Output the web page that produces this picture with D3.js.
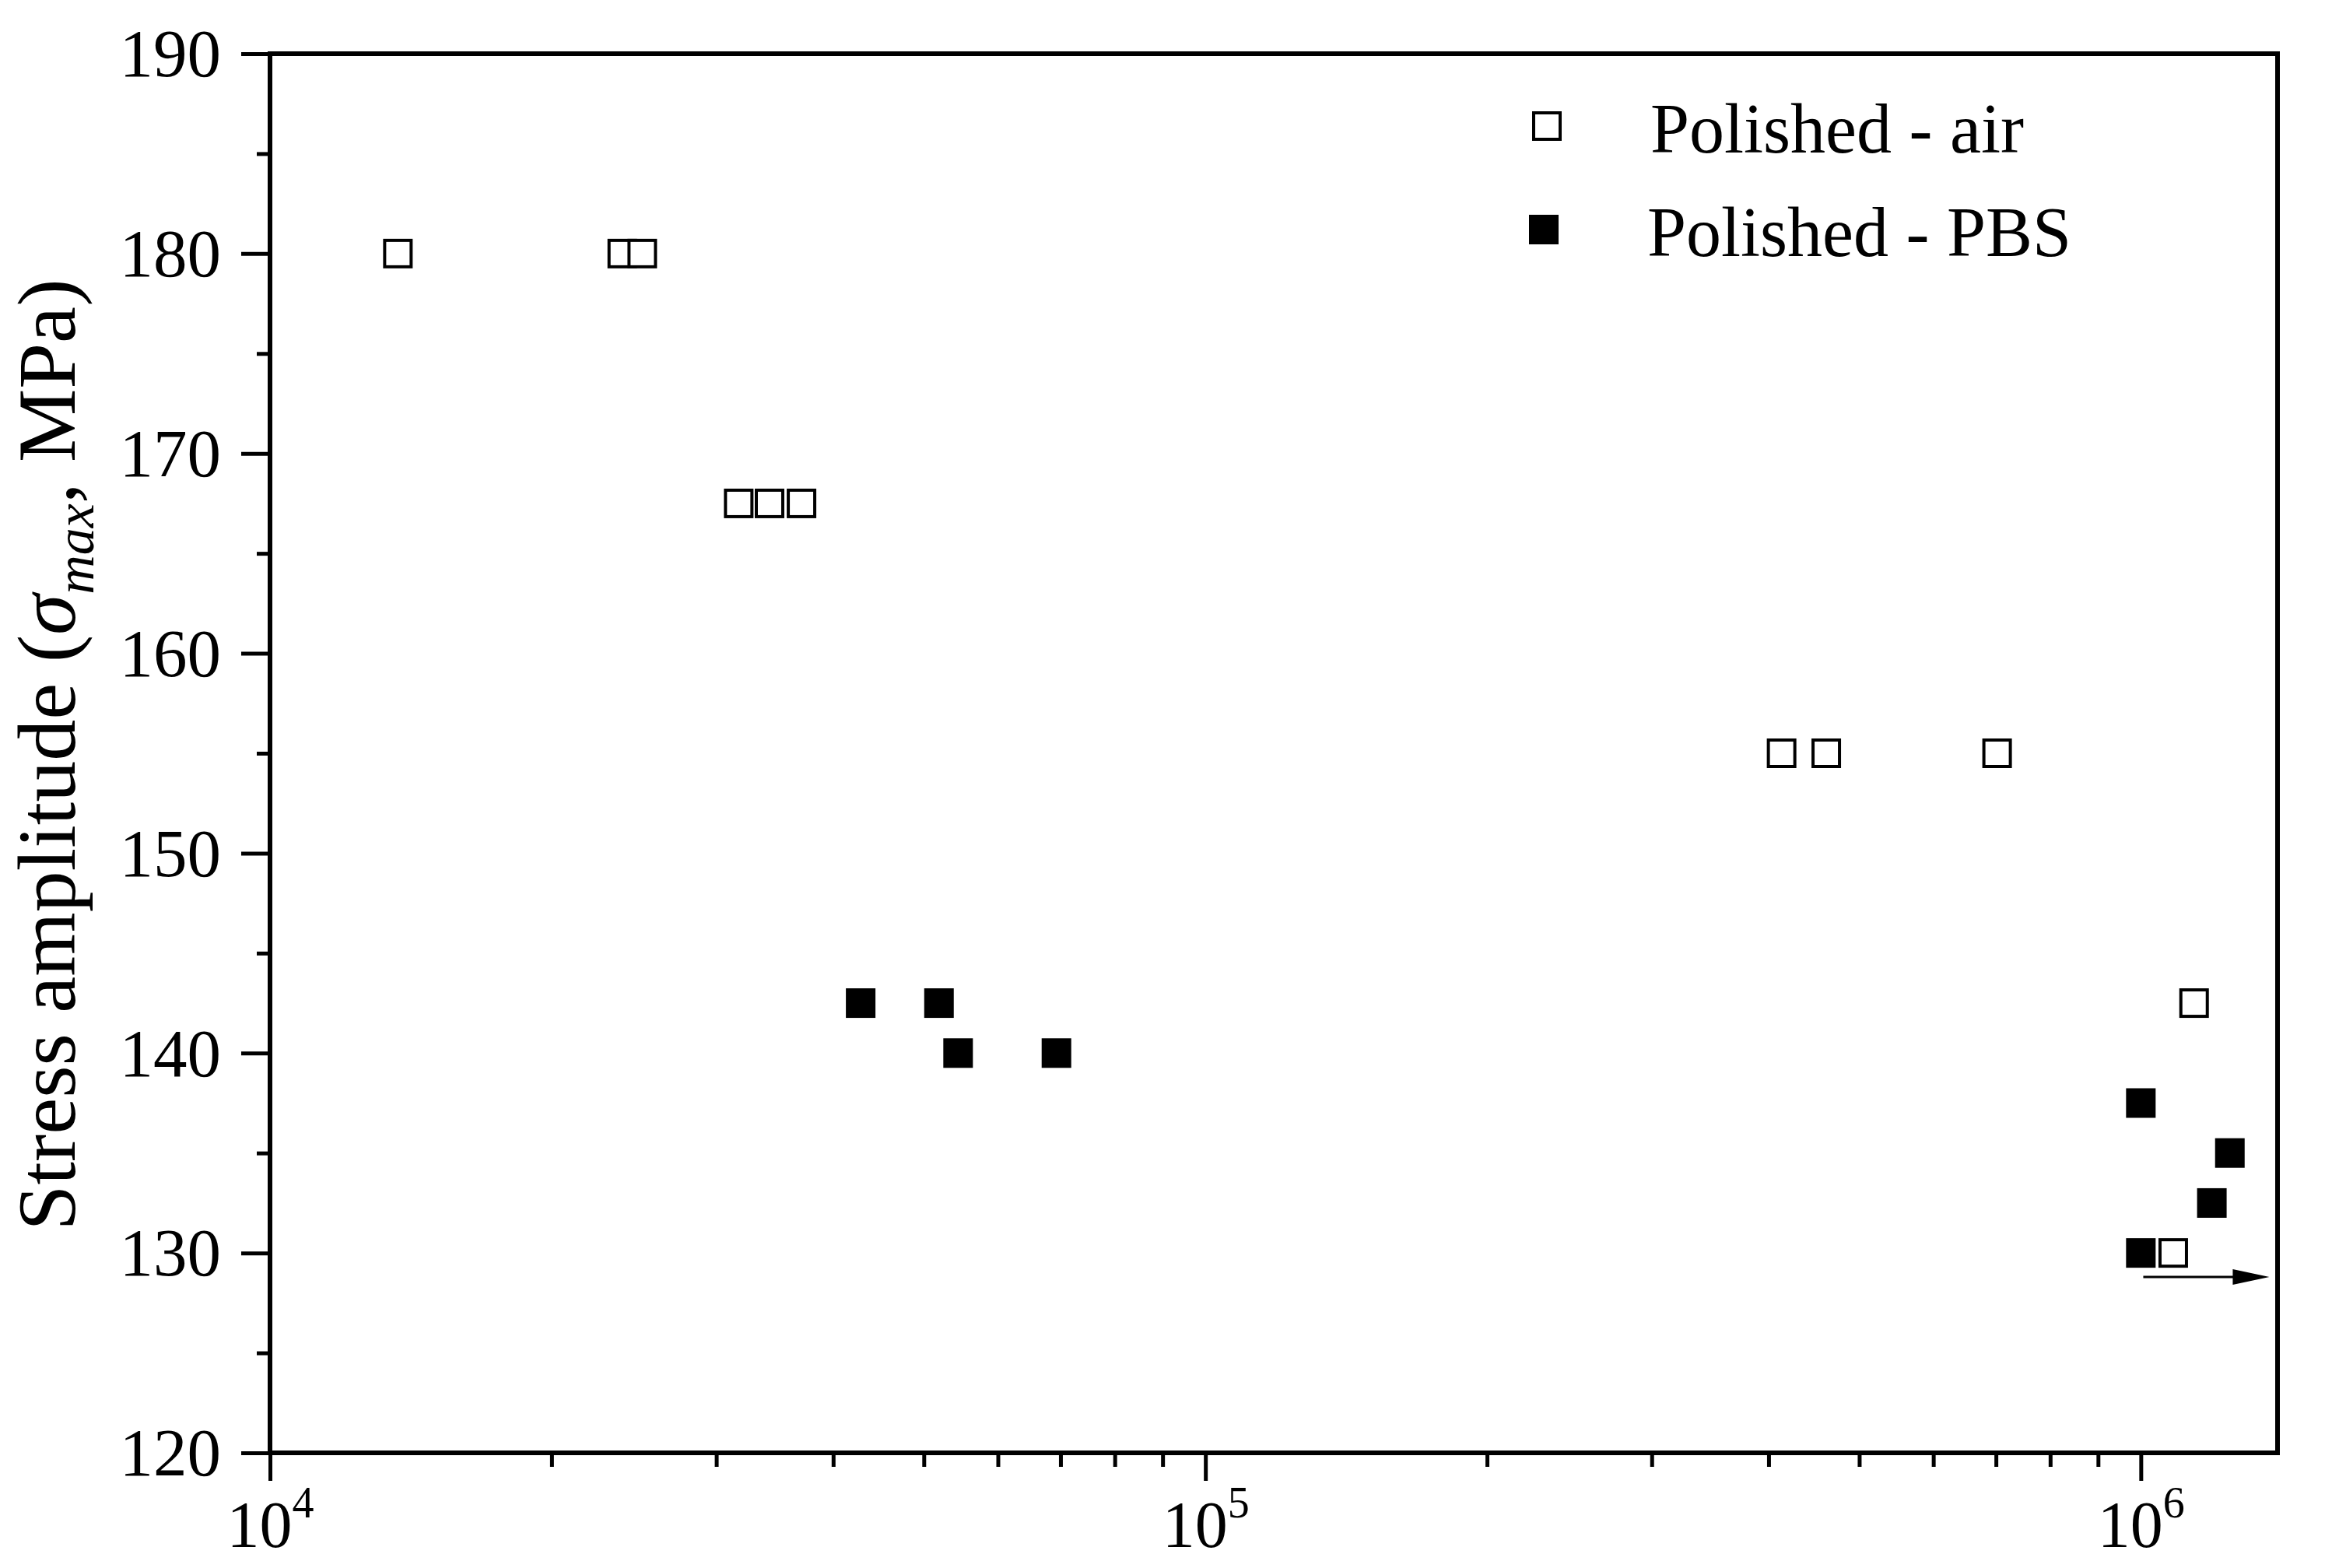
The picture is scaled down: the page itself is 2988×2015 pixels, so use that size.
<!DOCTYPE html>
<html>
<head>
<meta charset="utf-8">
<script src="https://cdn.jsdelivr.net/npm/d3@7"></script>
<style>
body { margin: 0; background: #fff; }
text { font-family: "Liberation Serif", "Times New Roman", serif; fill: #000; }
</style>
</head>
<body>
<svg width="2988" height="2015"></svg>
<script>
// values
var airCycles = [13700, 23800, 25000, 31700, 34200, 37000, 413000, 461000, 702000, 1140000, 1083000];
var airStress = [180, 180, 180, 167.5, 167.5, 167.5, 155, 155, 155, 142.5, 130];
var pbsCycles = [42800, 51900, 54400, 69300, 1000000, 1245000, 1191000, 1000000];
var pbsStress = [142.5, 142.5, 140, 140, 137.5, 135, 132.5, 130];
var runoutCycles = [1006000, 1372000];
var runoutStress = 128.8;
var seriesNames = ["Polished - air", "Polished - PBS"];
var yMajor = [120, 130, 140, 150, 160, 170, 180, 190];
var yMinor = [125, 135, 145, 155, 165, 175, 185];
var xMajor = [1e4, 1e5, 1e6];
var xExp = ["4", "5", "6"];

var svg = d3.select("svg"),
    margin = { left: 347, top: 69, right: 61, bottom: 148 },
    width = +svg.attr("width") - margin.left - margin.right,
    height = +svg.attr("height") - margin.top - margin.bottom;

var g = svg.append("g").attr("transform", "translate(" + margin.left + "," + margin.top + ")");

var x = d3.scaleLog().domain([1e4, 1.4e6]).range([0, width]);
var y = d3.scaleLinear().domain([120, 190]).range([height, 0]);

var xMinor = [];
[1e4, 1e5, 1e6].forEach(function (d) {
    for (var k = 2; k <= 9; k++) if (d * k <= 1.4e6) xMinor.push(d * k);
});

function styleAxis(sel, w) {
    sel.select(".domain").remove();
    sel.selectAll(".tick line").attr("stroke", "#000").attr("stroke-width", w);
}

// y axis
g.append("g").call(d3.axisLeft(y).tickValues(yMinor).tickSize(17).tickFormat(""))
    .call(styleAxis, 5);
var yAx = g.append("g").call(d3.axisLeft(y).tickValues(yMajor).tickSize(37).tickPadding(26).tickFormat(d3.format("d")))
    .call(styleAxis, 5);
yAx.selectAll(".tick text").attr("font-size", 87).attr("dy", "0.33em")
    .attr("font-family", "Liberation Serif");

// x axis
g.append("g").attr("transform", "translate(0," + height + ")")
    .call(d3.axisBottom(x).tickValues(xMinor).tickSize(18).tickFormat(""))
    .call(styleAxis, 5);
var xAx = g.append("g").attr("transform", "translate(0," + height + ")")
    .call(d3.axisBottom(x).tickValues(xMajor).tickSize(36).tickFormat(""))
    .call(styleAxis, 5);
xAx.selectAll(".tick").append("text")
    .attr("y", 121)
    .attr("text-anchor", "middle")
    .attr("font-size", 84)
    .attr("font-family", "Liberation Serif")
    .each(function (d, i) {
        var t = d3.select(this);
        t.append("tspan").text("10");
        t.append("tspan").attr("dy", -38).attr("font-size", 56).text(xExp[i]);
    });

// frame
g.append("rect").attr("width", width).attr("height", height)
    .attr("fill", "none").attr("stroke", "#000").attr("stroke-width", 6);

// y title
var yt = svg.append("text")
    .attr("transform", "translate(96," + (margin.top + height / 2 + 2) + ") rotate(-90)")
    .attr("text-anchor", "middle")
    .attr("font-size", 106);
yt.append("tspan").text("Stress amplitude (");
yt.append("tspan").attr("font-style", "italic").text("σ");
yt.append("tspan").attr("font-style", "italic").attr("font-size", 70).attr("dy", 24).text("max");
yt.append("tspan").attr("dy", -24).text(", MPa)");

var s = 38;

// runout arrow
var ay = y(runoutStress);
g.append("line")
    .attr("x1", x(runoutCycles[0])).attr("x2", x(runoutCycles[1]) - 40)
    .attr("y1", ay).attr("y2", ay)
    .attr("stroke", "#000").attr("stroke-width", 3);
g.append("path")
    .attr("d", "M" + x(runoutCycles[1]) + "," + ay + "l-47,-10l0,20z")
    .attr("fill", "#000");

// points
var air = airCycles.map(function (c, i) { return { c: c, s: airStress[i] }; });
var pbs = pbsCycles.map(function (c, i) { return { c: c, s: pbsStress[i] }; });

g.append("g").selectAll("rect").data(air).enter().append("rect")
    .attr("x", function (d) { return x(d.c) - s / 2 + 2; })
    .attr("y", function (d) { return y(d.s) - s / 2 + 2; })
    .attr("width", s - 4).attr("height", s - 4)
    .attr("fill", "#fff").attr("stroke", "#000").attr("stroke-width", 4);

g.append("g").selectAll("rect").data(pbs).enter().append("rect")
    .attr("x", function (d) { return x(d.c) - s / 2; })
    .attr("y", function (d) { return y(d.s) - s / 2; })
    .attr("width", s).attr("height", s)
    .attr("fill", "#000");

// legend
var legend = svg.append("g");
var legY = [162, 295];
seriesNames.forEach(function (name, i) {
    var lx = i === 0 ? 1988 : 1984;
    if (i === 0) {
        legend.append("rect").attr("x", lx - s / 2 + 2).attr("y", legY[i] - s / 2 + 2)
            .attr("width", s - 4).attr("height", s - 4)
            .attr("fill", "#fff").attr("stroke", "#000").attr("stroke-width", 4);
    } else {
        legend.append("rect").attr("x", lx - s / 2).attr("y", legY[i] - s / 2)
            .attr("width", s).attr("height", s).attr("fill", "#000");
    }
    legend.append("text")
        .attr("x", i === 0 ? 2121 : 2117)
        .attr("y", legY[i] + 34)
        .attr("font-size", 90)
        .text(name);
});
</script>
</body>
</html>
